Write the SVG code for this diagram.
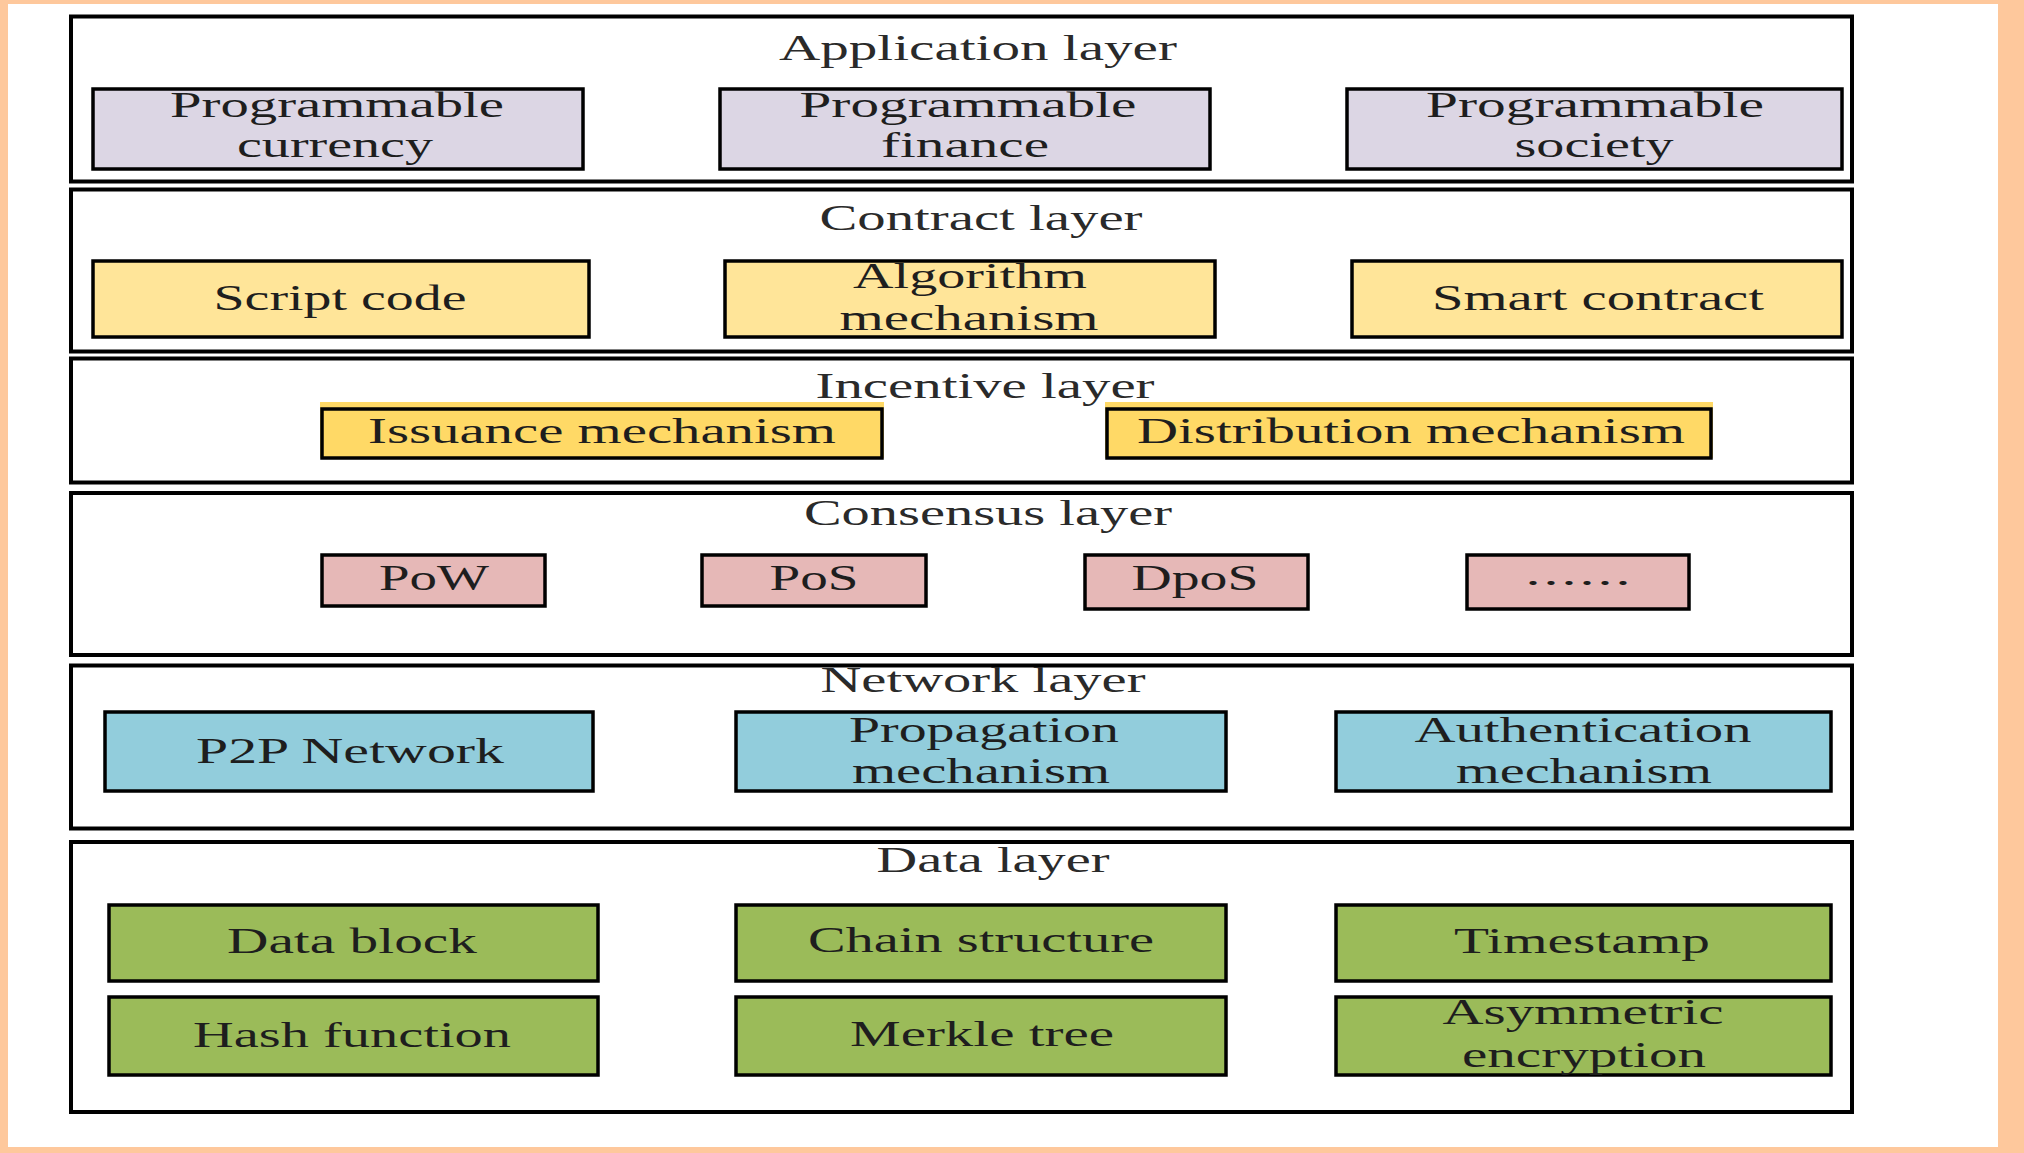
<svg xmlns="http://www.w3.org/2000/svg" width="2024" height="1153" viewBox="0 0 2024 1153">
  <style>
    .frame { fill: #FEC89C; }
    .sheet { fill: #FFFFFF; }
    .layer { fill: #FFFFFF; stroke: #000; stroke-width: 4; }
    .node { stroke: #000; stroke-width: 3.5; }
    .app { fill: #DCD6E4; }
    .contract { fill: #FFE599; }
    .incentive { fill: #FFD966; }
    .consensus { fill: #E6B8B7; }
    .network { fill: #92CDDC; }
    .data { fill: #9BBB59; }
    text { font-family: "Liberation Serif", "Times New Roman", serif; font-size: 36px; fill: #1e1e1e; text-anchor: middle; }
    .title { fill: #2a2a2a; }
  </style>

  <!-- page background with coloured border -->
  <rect class="frame" x="0" y="0" width="2024" height="1153"/>
  <rect class="sheet" x="8" y="4" width="1990" height="1143"/>

  <!-- Application layer -->
  <g id="application-layer">
    <rect class="layer" x="71" y="16.5" width="1781" height="165"/>
    <text class="title" x="978" y="60" textLength="398" lengthAdjust="spacingAndGlyphs">Application layer</text>
  </g>
  <g id="programmable-currency">
    <rect class="node app" x="93" y="89" width="490" height="80"/>
    <text x="337" y="117" textLength="334" lengthAdjust="spacingAndGlyphs">Programmable</text>
    <text x="335" y="157" textLength="196" lengthAdjust="spacingAndGlyphs">currency</text>
  </g>
  <g id="programmable-finance">
    <rect class="node app" x="720" y="89" width="490" height="80"/>
    <text x="968" y="117" textLength="337" lengthAdjust="spacingAndGlyphs">Programmable</text>
    <text x="965" y="157" textLength="168" lengthAdjust="spacingAndGlyphs">finance</text>
  </g>
  <g id="programmable-society">
    <rect class="node app" x="1347" y="89" width="495" height="80"/>
    <text x="1595" y="117" textLength="338" lengthAdjust="spacingAndGlyphs">Programmable</text>
    <text x="1594" y="157" textLength="159" lengthAdjust="spacingAndGlyphs">society</text>
  </g>

  <!-- Contract layer -->
  <g id="contract-layer">
    <rect class="layer" x="71" y="189.5" width="1781" height="162"/>
    <text class="title" x="981" y="230" textLength="323" lengthAdjust="spacingAndGlyphs">Contract layer</text>
  </g>
  <g id="script-code">
    <rect class="node contract" x="93" y="261" width="496" height="76"/>
    <text x="340" y="310" textLength="253" lengthAdjust="spacingAndGlyphs">Script code</text>
  </g>
  <g id="algorithm-mechanism">
    <rect class="node contract" x="725" y="261" width="490" height="76"/>
    <text x="970" y="288" textLength="234" lengthAdjust="spacingAndGlyphs">Algorithm</text>
    <text x="969" y="330" textLength="259" lengthAdjust="spacingAndGlyphs">mechanism</text>
  </g>
  <g id="smart-contract">
    <rect class="node contract" x="1352" y="261" width="490" height="76"/>
    <text x="1598" y="310" textLength="332" lengthAdjust="spacingAndGlyphs">Smart contract</text>
  </g>

  <!-- Incentive layer -->
  <g id="incentive-layer">
    <rect class="layer" x="71" y="358.5" width="1781" height="124"/>
    <text class="title" x="985" y="398" textLength="339" lengthAdjust="spacingAndGlyphs">Incentive layer</text>
  </g>
  <g id="issuance-mechanism">
    <rect class="incentive" x="320" y="402" width="564" height="56"/>
    <rect class="node incentive" x="322" y="409" width="560" height="49"/>
    <text x="602" y="443" textLength="468" lengthAdjust="spacingAndGlyphs">Issuance mechanism</text>
  </g>
  <g id="distribution-mechanism">
    <rect class="incentive" x="1105" y="402" width="608" height="56"/>
    <rect class="node incentive" x="1107" y="409" width="604" height="49"/>
    <text x="1411" y="443" textLength="548" lengthAdjust="spacingAndGlyphs">Distribution mechanism</text>
  </g>

  <!-- Consensus layer -->
  <g id="consensus-layer">
    <rect class="layer" x="71" y="493" width="1781" height="162"/>
    <text class="title" x="988" y="525" textLength="368" lengthAdjust="spacingAndGlyphs">Consensus layer</text>
  </g>
  <g id="pow">
    <rect class="node consensus" x="322" y="555" width="223" height="51"/>
    <text x="434" y="590" textLength="110" lengthAdjust="spacingAndGlyphs">PoW</text>
  </g>
  <g id="pos">
    <rect class="node consensus" x="702" y="555" width="224" height="51"/>
    <text x="814" y="590" textLength="89" lengthAdjust="spacingAndGlyphs">PoS</text>
  </g>
  <g id="dpos">
    <rect class="node consensus" x="1085" y="555" width="223" height="54"/>
    <text x="1195" y="590" textLength="127" lengthAdjust="spacingAndGlyphs">DpoS</text>
  </g>
  <g id="others">
    <rect class="node consensus" x="1467" y="555" width="222" height="54"/>
    <text x="1578" y="594" textLength="108" lengthAdjust="spacingAndGlyphs" style="font-family: 'Noto Sans CJK SC', sans-serif; font-size: 30px;">……</text>
  </g>

  <!-- Network layer -->
  <g id="network-layer">
    <rect class="layer" x="71" y="665.5" width="1781" height="163"/>
    <text class="title" x="983" y="692" textLength="325" lengthAdjust="spacingAndGlyphs">Network layer</text>
  </g>
  <g id="p2p-network">
    <rect class="node network" x="105" y="712" width="488" height="79"/>
    <text x="350" y="763" textLength="308" lengthAdjust="spacingAndGlyphs">P2P Network</text>
  </g>
  <g id="propagation-mechanism">
    <rect class="node network" x="736" y="712" width="490" height="79"/>
    <text x="984" y="742" textLength="270" lengthAdjust="spacingAndGlyphs">Propagation</text>
    <text x="981" y="783" textLength="258" lengthAdjust="spacingAndGlyphs">mechanism</text>
  </g>
  <g id="authentication-mechanism">
    <rect class="node network" x="1336" y="712" width="495" height="79"/>
    <text x="1583" y="742" textLength="337" lengthAdjust="spacingAndGlyphs">Authentication</text>
    <text x="1584" y="783" textLength="256" lengthAdjust="spacingAndGlyphs">mechanism</text>
  </g>

  <!-- Data layer -->
  <g id="data-layer">
    <rect class="layer" x="71" y="842" width="1781" height="270"/>
    <text class="title" x="993" y="872" textLength="233" lengthAdjust="spacingAndGlyphs">Data layer</text>
  </g>
  <g id="data-block">
    <rect class="node data" x="109" y="905" width="489" height="76"/>
    <text x="352" y="953" textLength="250" lengthAdjust="spacingAndGlyphs">Data block</text>
  </g>
  <g id="chain-structure">
    <rect class="node data" x="736" y="905" width="490" height="76"/>
    <text x="981" y="952" textLength="346" lengthAdjust="spacingAndGlyphs">Chain structure</text>
  </g>
  <g id="timestamp">
    <rect class="node data" x="1336" y="905" width="495" height="76"/>
    <text x="1582" y="953" textLength="256" lengthAdjust="spacingAndGlyphs">Timestamp</text>
  </g>
  <g id="hash-function">
    <rect class="node data" x="109" y="997" width="489" height="78"/>
    <text x="352" y="1047" textLength="318" lengthAdjust="spacingAndGlyphs">Hash function</text>
  </g>
  <g id="merkle-tree">
    <rect class="node data" x="736" y="997" width="490" height="78"/>
    <text x="982" y="1046" textLength="264" lengthAdjust="spacingAndGlyphs">Merkle tree</text>
  </g>
  <g id="asymmetric-encryption">
    <rect class="node data" x="1336" y="997" width="495" height="78"/>
    <text x="1583" y="1024" textLength="281" lengthAdjust="spacingAndGlyphs">Asymmetric</text>
    <text x="1584" y="1067" textLength="244" lengthAdjust="spacingAndGlyphs">encryption</text>
  </g>
</svg>
